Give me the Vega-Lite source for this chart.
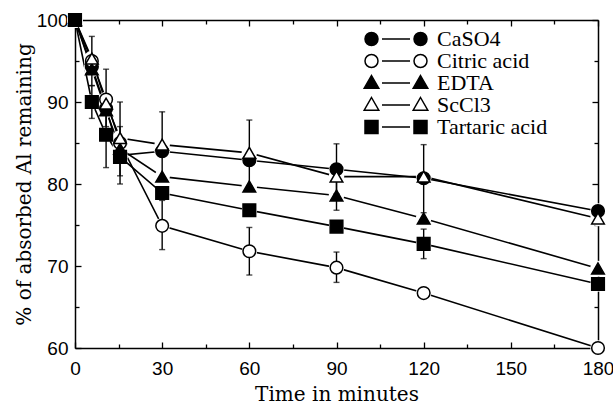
{
  "$schema": "https://vega.github.io/schema/vega-lite/v6.json",
  "width": 523,
  "height": 328,
  "autosize": {"type": "none"},
  "padding": {"left": 75, "top": 20, "right": 15, "bottom": 58},
  "background": "white",
  "config": {
    "view": {"stroke": null},
    "axis": {
      "domainColor": "black", "domainWidth": 1.5, "tickColor": "black", "tickWidth": 1.3,
      "labelColor": "black", "titleColor": "black", "grid": false,
      "labelFont": "Liberation Sans", "labelFontSize": 19,
      "titleFont": "DejaVu Serif", "titleFontSize": 20, "titleFontWeight": "normal"
    },
    "legend": {"labelFont": "Liberation Serif", "labelFontSize": 22}
  },
  "datasets": {
    "pts": [
      {"series": "CaSO4", "t": 0, "v": 100}, {"series": "CaSO4", "t": 5.8, "v": 94.3}, {"series": "CaSO4", "t": 10.7, "v": 89.2}, {"series": "CaSO4", "t": 15.5, "v": 83.5}, {"series": "CaSO4", "t": 30, "v": 84.0}, {"series": "CaSO4", "t": 60, "v": 82.9}, {"series": "CaSO4", "t": 90, "v": 81.8}, {"series": "CaSO4", "t": 120, "v": 80.7}, {"series": "CaSO4", "t": 180, "v": 76.7},
      {"series": "Citric acid", "t": 0, "v": 100}, {"series": "Citric acid", "t": 5.8, "v": 95.0}, {"series": "Citric acid", "t": 10.7, "v": 90.3}, {"series": "Citric acid", "t": 15.5, "v": 85.0}, {"series": "Citric acid", "t": 30, "v": 74.9}, {"series": "Citric acid", "t": 60, "v": 71.8}, {"series": "Citric acid", "t": 90, "v": 69.8}, {"series": "Citric acid", "t": 120, "v": 66.7}, {"series": "Citric acid", "t": 180, "v": 60},
      {"series": "EDTA", "t": 0, "v": 100}, {"series": "EDTA", "t": 5.8, "v": 94.0}, {"series": "EDTA", "t": 10.7, "v": 89.0}, {"series": "EDTA", "t": 15.5, "v": 84.3}, {"series": "EDTA", "t": 30, "v": 80.9}, {"series": "EDTA", "t": 60, "v": 79.7}, {"series": "EDTA", "t": 90, "v": 78.6}, {"series": "EDTA", "t": 120, "v": 75.8}, {"series": "EDTA", "t": 180, "v": 69.7},
      {"series": "ScCl3", "t": 0, "v": 100}, {"series": "ScCl3", "t": 5.8, "v": 95.3}, {"series": "ScCl3", "t": 10.7, "v": 89.8}, {"series": "ScCl3", "t": 15.5, "v": 85.6}, {"series": "ScCl3", "t": 30, "v": 84.8}, {"series": "ScCl3", "t": 60, "v": 83.8}, {"series": "ScCl3", "t": 90, "v": 80.9}, {"series": "ScCl3", "t": 120, "v": 80.9}, {"series": "ScCl3", "t": 180, "v": 75.8},
      {"series": "Tartaric acid", "t": 0, "v": 100}, {"series": "Tartaric acid", "t": 5.8, "v": 90.0}, {"series": "Tartaric acid", "t": 10.7, "v": 86.0}, {"series": "Tartaric acid", "t": 15.5, "v": 83.3}, {"series": "Tartaric acid", "t": 30, "v": 78.9}, {"series": "Tartaric acid", "t": 60, "v": 76.8}, {"series": "Tartaric acid", "t": 90, "v": 74.8}, {"series": "Tartaric acid", "t": 120, "v": 72.7}, {"series": "Tartaric acid", "t": 180, "v": 67.8}
    ],
    "err": [
      {"series": "ScCl3", "t": 5.8, "lo": 92, "hi": 98},
      {"series": "Tartaric acid", "t": 5.8, "lo": 88, "hi": 92},
      {"series": "Citric acid", "t": 10.7, "lo": 87, "hi": 94},
      {"series": "Tartaric acid", "t": 10.7, "lo": 82, "hi": 90},
      {"series": "ScCl3", "t": 15.5, "lo": 81, "hi": 90},
      {"series": "CaSO4", "t": 15.5, "lo": 80, "hi": 87},
      {"series": "ScCl3", "t": 30, "lo": 80.8, "hi": 88.8},
      {"series": "Citric acid", "t": 30, "lo": 72, "hi": 78},
      {"series": "ScCl3", "t": 60, "lo": 79.8, "hi": 87.8},
      {"series": "Citric acid", "t": 60, "lo": 68.9, "hi": 74.7},
      {"series": "CaSO4", "t": 90, "lo": 78.8, "hi": 84.9},
      {"series": "EDTA", "t": 90, "lo": 76.8, "hi": 80.4},
      {"series": "Citric acid", "t": 90, "lo": 68, "hi": 71.7},
      {"series": "CaSO4", "t": 120, "lo": 76.5, "hi": 84.8},
      {"series": "Tartaric acid", "t": 120, "lo": 70.9, "hi": 74.5}
    ]
  },
  "layer": [
    {
      "data": {"name": "pts"},
      "mark": {"type": "line", "color": "black", "strokeWidth": 1.6},
      "encoding": {
        "x": {"field": "t", "type": "quantitative", "scale": {"domain": [0, 180], "nice": false, "zero": false},
          "axis": {"orient": "bottom", "values": [0, 15, 30, 45, 60, 75, 90, 105, 120, 135, 150, 165, 180],
            "labelExpr": "datum.value % 30 === 0 ? datum.label : ''",
            "tickSize": {"condition": {"test": "datum.value % 30 === 0", "value": -6}, "value": -4},
            "labelPadding": 17, "labelFlush": false, "title": "Time in minutes", "titlePadding": 6}},
        "y": {"field": "v", "type": "quantitative", "scale": {"domain": [60, 100], "nice": false, "zero": false},
          "axis": {"orient": "left", "values": [60, 65, 70, 75, 80, 85, 90, 95, 100],
            "labelExpr": "datum.value % 10 === 0 ? datum.label : ''",
            "tickSize": {"condition": {"test": "datum.value % 10 === 0", "value": -6}, "value": -4},
            "labelPadding": 13, "labelFlush": false, "title": "% of absorbed Al remaining", "titlePadding": 2}},
        "detail": {"field": "series"}
      }
    },
    {
      "data": {"name": "pts"},
      "mark": {"type": "circle", "color": "white", "size": 240, "opacity": 1},
      "encoding": {
        "x": {"field": "t", "type": "quantitative", "axis": null},
        "y": {"field": "v", "type": "quantitative", "axis": null}
      }
    },
    {
      "data": {"name": "err"},
      "mark": {"type": "rule", "color": "black", "strokeWidth": 1.4},
      "encoding": {
        "x": {"field": "t", "type": "quantitative", "axis": null},
        "y": {"field": "lo", "type": "quantitative", "axis": null},
        "y2": {"field": "hi"}
      }
    },
    {
      "data": {"name": "err"},
      "mark": {"type": "tick", "orient": "horizontal", "color": "black", "size": 6, "thickness": 1.4},
      "encoding": {
        "x": {"field": "t", "type": "quantitative", "axis": null},
        "y": {"field": "lo", "type": "quantitative", "axis": null}
      }
    },
    {
      "data": {"name": "err"},
      "mark": {"type": "tick", "orient": "horizontal", "color": "black", "size": 6, "thickness": 1.4},
      "encoding": {
        "x": {"field": "t", "type": "quantitative", "axis": null},
        "y": {"field": "hi", "type": "quantitative", "axis": null}
      }
    },
    {
      "data": {"name": "pts"},
      "mark": {"type": "point", "filled": true, "stroke": "black", "strokeWidth": 1.5, "size": 160, "opacity": 1},
      "encoding": {
        "x": {"field": "t", "type": "quantitative",
          "axis": {"orient": "top", "values": [0, 15, 30, 45, 60, 75, 90, 105, 120, 135, 150, 165, 180], "labels": false, "title": null,
            "tickSize": {"condition": {"test": "datum.value % 30 === 0", "value": -6}, "value": -4}}},
        "y": {"field": "v", "type": "quantitative",
          "axis": {"orient": "right", "values": [60, 65, 70, 75, 80, 85, 90, 95, 100], "labels": false, "title": null,
            "tickSize": {"condition": {"test": "datum.value % 10 === 0", "value": -6}, "value": -4}}},
        "shape": {"field": "series", "type": "nominal",
          "scale": {"domain": ["CaSO4", "Citric acid", "EDTA", "ScCl3", "Tartaric acid"], "range": ["circle", "circle", "triangle-up", "triangle-up", "square"]},
          "legend": null},
        "fill": {"field": "series", "type": "nominal",
          "scale": {"domain": ["CaSO4", "Citric acid", "EDTA", "ScCl3", "Tartaric acid"], "range": ["black", "white", "black", "white", "black"]},
          "legend": null}
      }
    },
    {
      "data": {"name": "pts"},
      "mark": {"type": "point", "filled": true, "stroke": "black", "strokeWidth": 1.5, "size": 400, "opacity": 0},
      "encoding": {
        "x": {"field": "t", "type": "quantitative", "axis": null},
        "y": {"field": "v", "type": "quantitative", "axis": null},
        "shape": {"field": "series", "type": "nominal",
          "scale": {"domain": ["CaSO4", "Citric acid", "EDTA", "ScCl3", "Tartaric acid"],
            "range": [
              "M-3.1,0A0.65,0.65 0 1,0 -1.8,0A0.65,0.65 0 1,0 -3.1,0ZM-1.4,0L1.4,0M1.8,0A0.65,0.65 0 1,0 3.1,0A0.65,0.65 0 1,0 1.8,0Z",
              "M-3.1,0A0.65,0.65 0 1,0 -1.8,0A0.65,0.65 0 1,0 -3.1,0ZM-1.4,0L1.4,0M1.8,0A0.65,0.65 0 1,0 3.1,0A0.65,0.65 0 1,0 1.8,0Z",
              "M-2.45,-0.75L-1.72,0.52L-3.18,0.52ZM-1.4,0L1.4,0M2.45,-0.75L3.18,0.52L1.72,0.52Z",
              "M-2.45,-0.75L-1.72,0.52L-3.18,0.52ZM-1.4,0L1.4,0M2.45,-0.75L3.18,0.52L1.72,0.52Z",
              "M-3.1,-0.65H-1.8V0.65H-3.1ZM-1.4,0L1.4,0M1.8,-0.65H3.1V0.65H1.8Z"]},
          "legend": {"title": null, "orient": "none", "legendX": 310, "legendY": 8, "padding": 0, "symbolSize": 400, "labelOffset": 30,
            "labelFont": "Liberation Serif", "labelFontSize": 22, "labelColor": "black", "rowPadding": -2, "labelLimit": 300,
            "symbolStrokeColor": "black", "symbolStrokeWidth": 1.5, "symbolOpacity": 1,
            "encode": {"symbols": {"update": {"stroke": {"value": "black"}, "strokeWidth": {"value": 1.5}, "opacity": {"value": 1}}}}}},
        "fill": {"field": "series", "type": "nominal",
          "scale": {"domain": ["CaSO4", "Citric acid", "EDTA", "ScCl3", "Tartaric acid"], "range": ["black", "white", "black", "white", "black"]},
          "legend": {"title": null, "orient": "none", "legendX": 310, "legendY": 8, "padding": 0, "symbolSize": 400, "labelOffset": 30,
            "labelFont": "Liberation Serif", "labelFontSize": 22, "labelColor": "black", "rowPadding": -2, "labelLimit": 300,
            "symbolStrokeColor": "black", "symbolStrokeWidth": 1.5, "symbolOpacity": 1,
            "encode": {"symbols": {"update": {"stroke": {"value": "black"}, "strokeWidth": {"value": 1.5}, "opacity": {"value": 1}}}}}}
      }
    }
  ],
  "resolve": {"axis": {"x": "independent", "y": "independent"}, "scale": {"shape": "independent", "fill": "independent"}}
}
